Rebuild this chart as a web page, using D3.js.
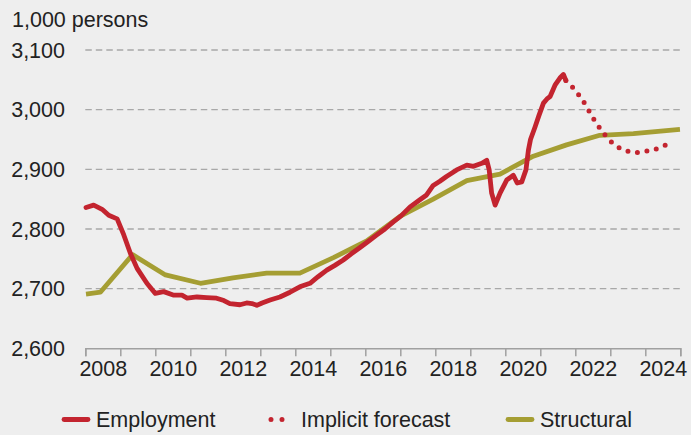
<!DOCTYPE html>
<html>
<head>
<meta charset="utf-8">
<script src="https://cdn.jsdelivr.net/npm/d3@7"></script>
<style>
  html, body { margin: 0; padding: 0; background: #eeeeee; }
  svg { display: block; font-family: "Liberation Sans", Arial, sans-serif; }
</style>
</head>
<body>
<svg id="chart" width="691" height="435"></svg>
<script>
// ---- data (x in axis-year units as displayed) ----
const yTicks = [2600, 2700, 2800, 2900, 3000, 3100];
const xLabelYears = [2008, 2010, 2012, 2014, 2016, 2018, 2020, 2022, 2024];
const unitLabel = "1,000 persons";
const seriesNames = ["Employment", "Implicit forecast", "Structural"];

const employmentX = [2008.02, 2008.24, 2008.48, 2008.67, 2008.91, 2009.10, 2009.29, 2009.48, 2009.76, 2010.00,
  2010.24, 2010.53, 2010.76, 2010.91, 2011.19, 2011.47, 2011.75, 2011.96, 2012.13, 2012.42,
  2012.61, 2012.76, 2012.90, 2013.05, 2013.28, 2013.56, 2013.85, 2014.13, 2014.42, 2014.65,
  2014.90, 2015.13, 2015.37, 2015.59, 2015.85, 2016.08, 2016.33, 2016.56, 2016.80, 2017.02,
  2017.28, 2017.56, 2017.75, 2017.94, 2018.13, 2018.32, 2018.61, 2018.90, 2019.09, 2019.33,
  2019.47, 2019.54, 2019.61, 2019.71, 2019.85, 2020.04, 2020.23, 2020.34, 2020.47, 2020.59,
  2020.66, 2020.72, 2020.85, 2020.96, 2021.09, 2021.19, 2021.28, 2021.42, 2021.56, 2021.66, 2021.73];
const employmentY = [2836, 2840, 2833, 2823, 2817, 2790, 2759, 2734, 2709, 2692,
  2695, 2689, 2689, 2684, 2686, 2685, 2684, 2680, 2675, 2673,
  2676, 2675, 2672, 2676, 2681, 2686, 2694, 2703, 2709, 2720,
  2731, 2739, 2748, 2758, 2769, 2779, 2790, 2800, 2812, 2822,
  2837, 2849, 2857, 2873, 2880, 2888, 2899, 2907, 2905, 2910,
  2915, 2899, 2860, 2840, 2860, 2882, 2890, 2877, 2879, 2899,
  2932, 2950, 2971, 2990, 3011, 3018, 3022, 3041, 3053, 3059, 3049];

const forecastX = [2021.73, 2021.93, 2022.25, 2022.53, 2022.83, 2023.01, 2023.23, 2023.47, 2023.73, 2023.99, 2024.26, 2024.51, 2024.76];
const forecastY = [3049, 3037, 3012, 2984, 2959, 2947, 2937, 2931, 2928, 2930, 2933, 2939, 2944];

const structuralX = [2008.02, 2008.43, 2009.35, 2010.29, 2011.29, 2012.22, 2013.18, 2014.13, 2015.09, 2016.04,
  2016.99, 2017.94, 2018.90, 2019.85, 2020.80, 2021.75, 2022.70, 2023.66, 2024.99];
const structuralY = [2691, 2694, 2757, 2723, 2709, 2718, 2726, 2726, 2752, 2780,
  2821, 2850, 2881, 2892, 2922, 2941, 2957, 2960, 2967];

// ---- styling ----
const RED = "#c3242f", OLIVE = "#a59e33", TEXT = "#222222", GRID = "#a8a8a8", AXIS = "#a0a0a0";
const FS = 21.5;

const svg = d3.select("#chart");
svg.append("rect").attr("width", 691).attr("height", 435).attr("fill", "#eeeeee");

const x = d3.scaleLinear().domain([2008, 2025]).range([85.3, 680.3]);
const y = d3.scaleLinear().domain([2600, 3100]).range([348.3, 50]);

// gridlines
svg.append("g").selectAll("line").data(yTicks.filter(d => d > 2600)).join("line")
  .attr("x1", x(2008)).attr("x2", x(2025))
  .attr("y1", d => y(d)).attr("y2", d => y(d))
  .attr("stroke", GRID).attr("stroke-width", 1.3).attr("stroke-dasharray", "6.5,4");

// y labels
svg.append("g").selectAll("text").data(yTicks).join("text")
  .attr("x", 65).attr("y", d => y(d)).attr("dy", "0.35em")
  .attr("text-anchor", "end").attr("font-size", FS).attr("fill", TEXT)
  .text(d => d3.format(",")(d));

svg.append("text").attr("x", 12).attr("y", 27).attr("font-size", FS).attr("fill", TEXT).text(unitLabel);

// x axis: tick marks at year boundaries, labels centred in year bands
const xAxisTicks = d3.axisBottom(x).tickValues(d3.range(2008, 2026)).tickSize(8).tickFormat("");
const gx = svg.append("g").attr("transform", `translate(0,${y(2600)})`).call(xAxisTicks);
gx.select(".domain").attr("stroke", AXIS).attr("stroke-width", 1.5);
gx.selectAll(".tick line").attr("stroke", AXIS).attr("stroke-width", 1.5);

const xAxisLabels = d3.axisBottom(x).tickValues(xLabelYears.map(d => d + 0.5)).tickSize(0).tickPadding(0)
  .tickFormat(d => String(Math.floor(d)));
const gl = svg.append("g").attr("transform", `translate(0,${y(2600)})`).call(xAxisLabels);
gl.select(".domain").remove();
gl.selectAll("text").attr("font-size", FS).attr("fill", TEXT).attr("font-family", "Liberation Sans, Arial, sans-serif")
  .attr("y", 27.5).attr("dy", 0);

// lines
const line = d3.line().x(d => x(d[0])).y(d => y(d[1])).curve(d3.curveLinear);
const zip = (a, b) => a.map((v, i) => [v, b[i]]);

svg.append("path").datum(zip(structuralX, structuralY)).attr("d", line)
  .attr("fill", "none").attr("stroke", OLIVE).attr("stroke-width", 4.8).attr("stroke-linejoin", "round");

svg.append("path").datum(zip(employmentX, employmentY)).attr("d", line)
  .attr("fill", "none").attr("stroke", RED).attr("stroke-width", 4.8).attr("stroke-linejoin", "round").attr("stroke-linecap", "round");

svg.append("path").datum(zip(forecastX, forecastY)).attr("d", d3.line().x(d => x(d[0])).y(d => y(d[1])).curve(d3.curveMonotoneX))
  .attr("fill", "none").attr("stroke", RED).attr("stroke-width", 5).attr("stroke-linecap", "round")
  .attr("stroke-dasharray", "0,9.6");

// legend
const lg = svg.append("g");
const ly = 419.5;
lg.append("line").attr("x1", 64).attr("x2", 88).attr("y1", ly).attr("y2", ly).attr("stroke", RED).attr("stroke-width", 4.8).attr("stroke-linecap", "round");
lg.append("text").attr("x", 96).attr("y", ly + 7.5).attr("font-size", FS).attr("fill", TEXT).text(seriesNames[0]);
lg.append("line").attr("x1", 271).attr("x2", 293).attr("y1", ly).attr("y2", ly).attr("stroke", RED).attr("stroke-width", 5).attr("stroke-linecap", "round").attr("stroke-dasharray", "0,11");
lg.append("text").attr("x", 301).attr("y", ly + 7.5).attr("font-size", FS).attr("fill", TEXT).text(seriesNames[1]);
lg.append("line").attr("x1", 508).attr("x2", 532).attr("y1", ly).attr("y2", ly).attr("stroke", OLIVE).attr("stroke-width", 4.8).attr("stroke-linecap", "round");
lg.append("text").attr("x", 540).attr("y", ly + 7.5).attr("font-size", FS).attr("fill", TEXT).text(seriesNames[2]);
</script>
</body>
</html>
